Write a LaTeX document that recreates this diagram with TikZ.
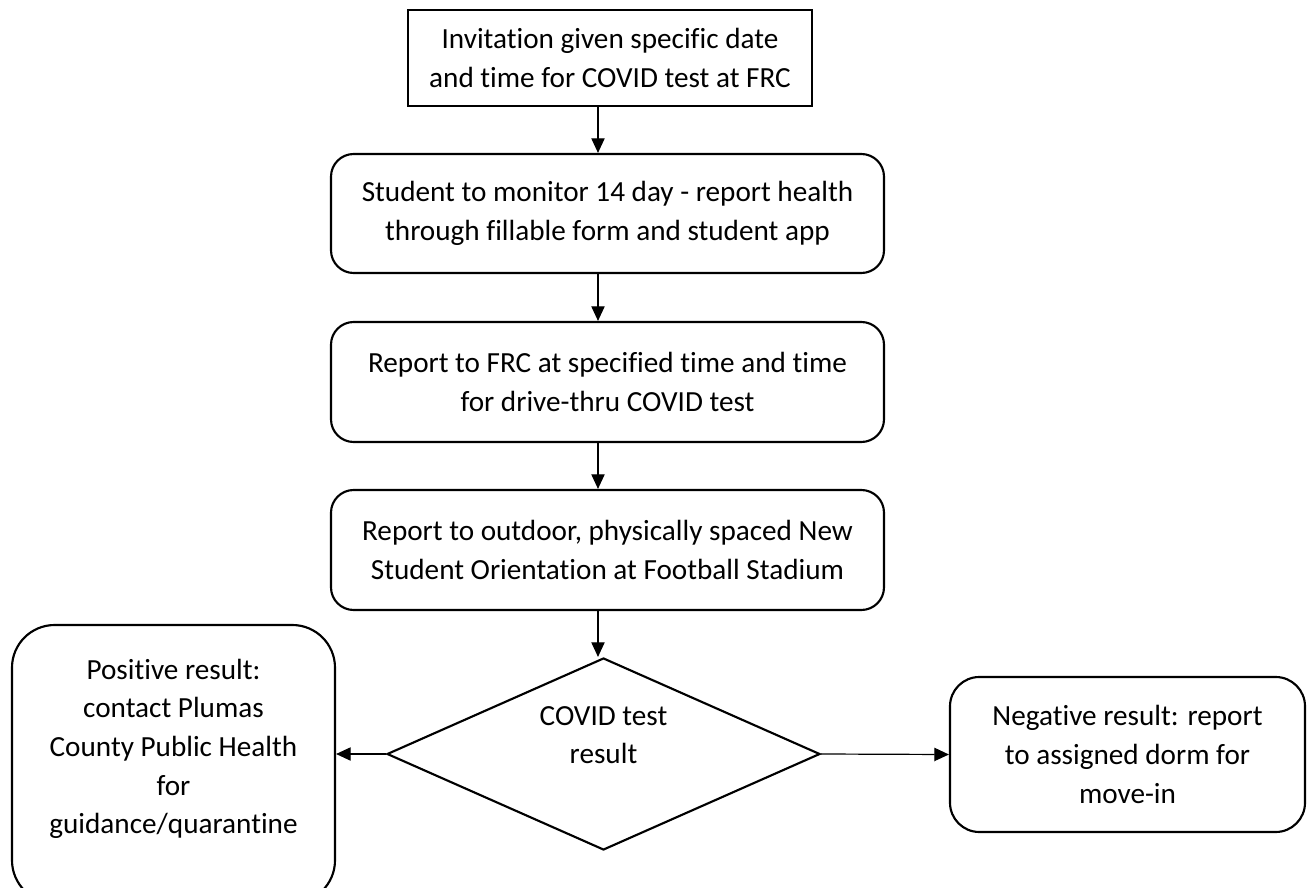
\documentclass[tikz,border=0pt]{standalone}
\usepackage{fontspec}
\setmainfont{Carlito}[Ligatures={NoCommon,NoContextual}]
\usetikzlibrary{arrows.meta,shapes.geometric}
\begin{document}
\begin{tikzpicture}[x=0.75pt,y=-0.75pt,
  txt/.style={align=center,font=\fontsize{21.9}{29}\selectfont,inner sep=0pt},
  sqbox/.style={draw,line width=1.6pt,txt},
  rbox/.style={draw,line width=1.6pt,rounded corners=17pt,txt},
  arr/.style={line width=0.9pt,-{Triangle[length=11pt,width=10pt]}}]
\useasboundingbox (0,0) rectangle (1311,888);
\coordinate (ax) at (598,0);
\node[sqbox,minimum width=404*0.75pt,minimum height=96*0.75pt] (b1) at (610,58)
  {Invitation given specific date\\and time for COVID test at FRC};
\node[rbox,minimum width=553*0.75pt,minimum height=119*0.75pt] (b2) at (607.5,213.5)
  {Student to monitor 14 day - report health\\through fillable form and student app};
\node[rbox,minimum width=553*0.75pt,minimum height=120*0.75pt] (b3) at (607.5,382)
  {Report to FRC at specified time and time\\for drive-thru COVID test};
\node[rbox,minimum width=553*0.75pt,minimum height=120*0.75pt] (b4) at (607.5,550)
  {Report to outdoor, physically spaced New\\Student Orientation at Football Stadium};
\node[diamond,draw,line width=1.6pt,minimum width=433*0.75pt,minimum height=192*0.75pt,inner sep=0pt] (dia) at (603.5,754) {};
\node[txt] (diatext) at (603.5,735) {COVID test\\result};
\node[draw,line width=1.6pt,rounded corners=32pt,minimum width=323*0.75pt,minimum height=278*0.75pt] (pos) at (173.5,764) {};
\node[txt] (postext) at (173.5,749)
  {Positive result:\\contact Plumas\\County Public Health\\for\\guidance/quarantine};
\node[draw,line width=1.6pt,rounded corners=22pt,minimum width=355*0.75pt,minimum height=155*0.75pt,txt] (neg) at (1127.5,754.5)
  {Negative result: report\\to assigned dorm for\\move-in};
\draw[arr] (b1.south -| ax) -- (b2.north -| ax);
\draw[arr] (b2.south -| ax) -- (b3.north -| ax);
\draw[arr] (b3.south -| ax) -- (b4.north -| ax);
\draw[arr] (b4.south -| ax) -- (dia.north -| ax);
\draw[arr] (dia.west) -- (dia.west -| pos.east);
\draw[arr] (dia.east) -- (neg.west);
\end{tikzpicture}
\end{document}
